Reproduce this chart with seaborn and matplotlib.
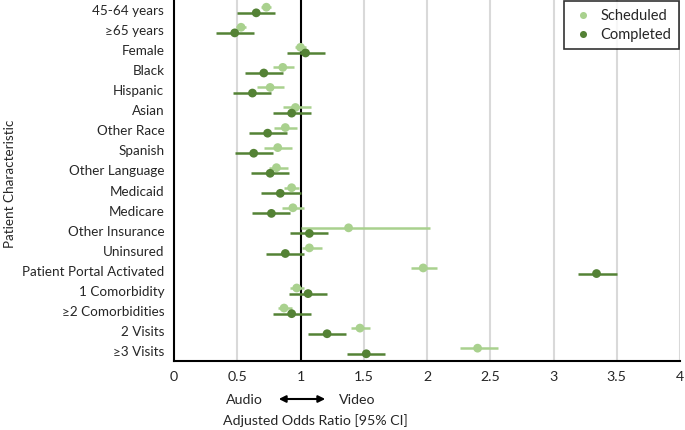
import numpy as np
import pandas as pd
import seaborn as sns
import matplotlib.pyplot as plt
from matplotlib.patches import FancyArrowPatch

categories = ["45-64 years", "≥65 years", "Female", "Black", "Hispanic", "Asian",
              "Other Race", "Spanish", "Other Language", "Medicaid", "Medicare",
              "Other Insurance", "Uninsured", "Patient Portal Activated",
              "1 Comorbidity", "≥2 Comorbidities", "2 Visits", "≥3 Visits"]

sched_or = [0.73, 0.53, 1.00, 0.86, 0.76, 0.96, 0.88, 0.82, 0.81, 0.93, 0.94, 1.38, 1.07, 1.97, 0.97, 0.87, 1.47, 2.40]
sched_lo = [0.69, 0.49, 0.96, 0.78, 0.66, 0.86, 0.79, 0.71, 0.75, 0.87, 0.85, 1.00, 1.01, 1.87, 0.92, 0.82, 1.40, 2.26]
sched_hi = [0.77, 0.57, 1.04, 0.95, 0.87, 1.08, 0.97, 0.93, 0.90, 0.99, 1.03, 2.02, 1.17, 2.08, 1.03, 0.93, 1.55, 2.56]

comp_or = [0.65, 0.48, 1.04, 0.71, 0.62, 0.93, 0.74, 0.63, 0.76, 0.84, 0.77, 1.07, 0.88, 3.34, 1.06, 0.93, 1.21, 1.52]
comp_lo = [0.50, 0.33, 0.89, 0.56, 0.47, 0.78, 0.59, 0.48, 0.61, 0.69, 0.62, 0.92, 0.73, 3.19, 0.91, 0.78, 1.06, 1.37]
comp_hi = [0.80, 0.63, 1.19, 0.86, 0.77, 1.08, 0.89, 0.78, 0.91, 1.00, 0.92, 1.22, 1.03, 3.50, 1.21, 1.08, 1.36, 1.67]

colors = {"Scheduled": "#a9d18e", "Completed": "#548235"}
offsets = {"Scheduled": -0.14, "Completed": 0.14}

rows = []
for i, c in enumerate(categories):
    rows.append(["Scheduled", c, i + offsets["Scheduled"], sched_or[i], sched_lo[i], sched_hi[i]])
    rows.append(["Completed", c, i + offsets["Completed"], comp_or[i], comp_lo[i], comp_hi[i]])
df = pd.DataFrame(rows, columns=["Visit", "Characteristic", "y", "OR", "lo", "hi"])

sns.set_style("white")
plt.rcParams['font.family'] = ['Lato', 'DejaVu Sans']
FS = 9.7

fig = plt.figure(figsize=(6.85, 4.30), dpi=100)
ax = fig.add_axes([174 / 685, 1 - 361 / 430, 506 / 685, 361 / 430])

for v in [0.5, 1.5, 2, 2.5, 3, 3.5, 4]:
    ax.axvline(v, color="#d9d9d9", lw=1.5, zorder=0)
ax.axvline(1, color="black", lw=1.5, zorder=1)

for name, g in df.groupby("Visit", sort=False):
    ax.hlines(g["y"], g["lo"], g["hi"], color=colors[name], lw=1.8, zorder=2)

sns.scatterplot(data=df, x="OR", y="y", hue="Visit", palette=colors, s=40,
                edgecolor="none", ax=ax, zorder=3)

ax.set_xlim(0, 4)
ax.set_ylim(17.5, -0.5)
ax.set_xticks([0, 0.5, 1, 1.5, 2, 2.5, 3, 3.5, 4])
ax.set_xticklabels(["0", "0.5", "1", "1.5", "2", "2.5", "3", "3.5", "4"], fontsize=10.2)
ax.set_yticks(range(len(categories)))
ax.set_yticklabels(categories, fontsize=FS)
ax.tick_params(axis="x", direction="out", length=5, width=1.2, color="black", pad=2)
ax.tick_params(axis="y", length=0, pad=7)
for s in ["top", "right"]:
    ax.spines[s].set_visible(False)
for s in ["left", "bottom"]:
    ax.spines[s].set_color("black")
    ax.spines[s].set_linewidth(1.5)

ax.set_xlabel("")
ax.set_ylabel("Patient Characteristic", fontsize=FS)
ax.yaxis.set_label_coords(-158 / 506, 0.49)

leg = ax.legend(loc="upper right", fontsize=10.5, frameon=True, fancybox=False,
                markerscale=0.8, handletextpad=0.4, borderpad=0.5, labelspacing=0.35,
                borderaxespad=0.1, handlelength=1.6)
leg.get_frame().set_edgecolor("black")
leg.get_frame().set_linewidth(1.2)

fig.text(244 / 685, 1 - 400 / 430, "Audio", ha="center", va="center", fontsize=10.2)
fig.text(357 / 685, 1 - 400 / 430, "Video", ha="center", va="center", fontsize=10.2)
fig.text(315 / 685, 1 - 421 / 430, "Adjusted Odds Ratio [95% CI]", ha="center", va="center", fontsize=10.2)
fig.patches.append(FancyArrowPatch(
    (276 / 685, 1 - 399 / 430), (328 / 685, 1 - 399 / 430), transform=fig.transFigure,
    arrowstyle="<|-|>", mutation_scale=10, color="black", lw=1.5))

fig.savefig("out.png", dpi=100)
